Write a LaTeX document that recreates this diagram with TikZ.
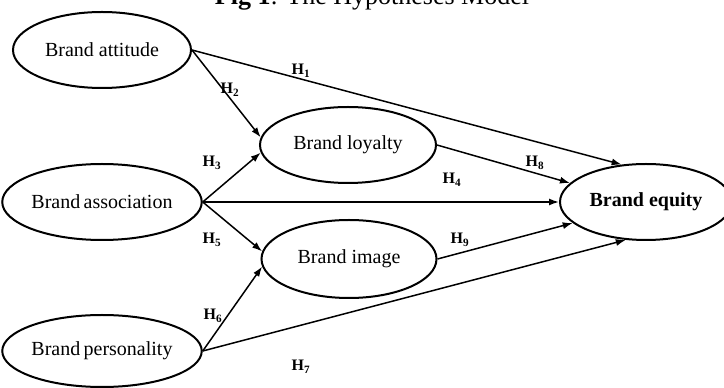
\documentclass[tikz,border=0pt]{standalone}
\usepackage{fontspec}
\setmainfont{Liberation Serif}
\usetikzlibrary{shapes.geometric,arrows.meta}

\newcommand{\hlab}[1]{\textbf{H}\textsubscript{\textbf{#1}}}

\tikzset{
	concept/.style={ellipse, draw, line width=2pt, inner sep=0pt, font=\fontsize{20}{24}\selectfont},
	link/.style={line width=1.5pt, -{Latex[length=10pt,width=7pt]}},
	hyp/.style={inner sep=0pt, font=\fontsize{16}{18}\selectfont},
}

\begin{document}
\begin{tikzpicture}[
		x={(1pt,0pt)},
		y={(0pt,1pt)},
	]
		\useasboundingbox (0,0) rectangle (724,388);
		\node[anchor=base, font=\fontsize{26}{30}\selectfont] (title) at (372,383) {\textbf{Fig 1}: The Hypotheses Model};
		
		% constructs
		\node[concept, minimum width=178pt, minimum height=76pt] (att) at (102,338) {Brand attitude};
		\node[concept, minimum width=178pt, minimum height=76pt] (ass) at (102,186) {Brand\,association};
		\node[concept, minimum width=180pt, minimum height=72pt] (per) at (102,37) {Brand\,personality};
		\node[concept, minimum width=176pt, minimum height=76pt] (loy) at (348,243) {Brand loyalty};
		\node[concept, minimum width=175pt, minimum height=78pt] (img) at (349,129) {Brand image};
		\node[concept, minimum width=172pt, minimum height=76pt, font=\fontsize{20}{24}\selectfont\bfseries] (eq) at (646,186) {Brand equity};
		
		\foreach \a/\b in {att.east/eq.123, att.east/loy.175, ass.east/loy.185, ass.east/eq.west, ass.east/img.175, per.east/img.185, per.east/eq.242, loy.east/eq.166, img.east/eq.196}{
			\draw[link] (\a) -- (\b);
		}
		\foreach \n/\x/\y in {1/301/317, 2/230/298, 3/212/225, 4/452/208, 5/212/148, 6/213/72, 7/301/21, 8/535/225, 9/460/148}{
			\node[hyp] (h\n) at (\x,\y) {\hlab{\n}};
		}
	\end{tikzpicture}
\end{document}
